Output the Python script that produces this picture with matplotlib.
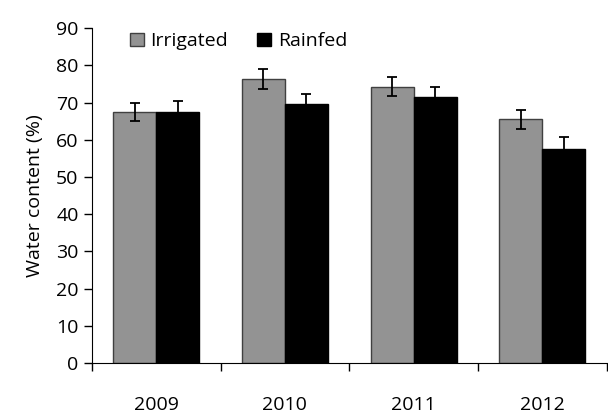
import numpy as np
import matplotlib.pyplot as plt

plt.rcParams['font.family'] = ['Open Sans', 'DejaVu Sans']

years = ['2009', '2010', '2011', '2012']
irrigated = [67.5, 76.3, 74.3, 65.5]
irrigated_err = [2.5, 2.6, 2.6, 2.5]
rainfed = [67.5, 69.6, 71.4, 57.6]
rainfed_err = [3.0, 2.8, 2.8, 3.0]

fig = plt.figure(figsize=(6.08, 4.13), dpi=100)
ax = fig.add_axes([0.151, 0.121, 0.847, 0.811])

x = np.arange(len(years))
w = 1 / 3.0
ax.bar(x - w / 2, irrigated, w, color='#939393', edgecolor='#404040', linewidth=1,
       label='Irrigated')
ax.bar(x + w / 2, rainfed, w, color='black', edgecolor='black', linewidth=1,
       label='Rainfed')
ax.errorbar(x - w / 2, irrigated, yerr=irrigated_err, fmt='none', ecolor='black',
            elinewidth=1.3, capsize=3.5, capthick=1.3)
ax.errorbar(x + w / 2, rainfed, yerr=rainfed_err, fmt='none', ecolor='black',
            elinewidth=1.3, capsize=3.5, capthick=1.3)

ax.set_xlim(-0.5, len(years) - 0.5)
ax.set_ylim(0, 90)
ax.set_yticks(range(0, 91, 10))
ax.set_xticks(np.arange(-0.5, len(years), 1.0))
ax.set_xticklabels([])
ax.set_xticks(x, minor=True)
ax.set_xticklabels(years, minor=True)
ax.tick_params(axis='x', which='major', direction='out', length=6, width=1)
ax.tick_params(axis='x', which='minor', length=0, pad=24, labelsize=14)
ax.tick_params(axis='y', direction='out', length=6, width=1, labelsize=14)
ax.set_ylabel('Water content (%)', fontsize=14, labelpad=9)

for s in ['top', 'right']:
    ax.spines[s].set_visible(False)

ax.legend(loc='upper left', bbox_to_anchor=(0.04, 1.04), ncol=2, frameon=False,
          fontsize=14, handlelength=0.7, handleheight=0.7, handletextpad=0.35,
          columnspacing=1.5)

fig.savefig('out.png', dpi=100)
